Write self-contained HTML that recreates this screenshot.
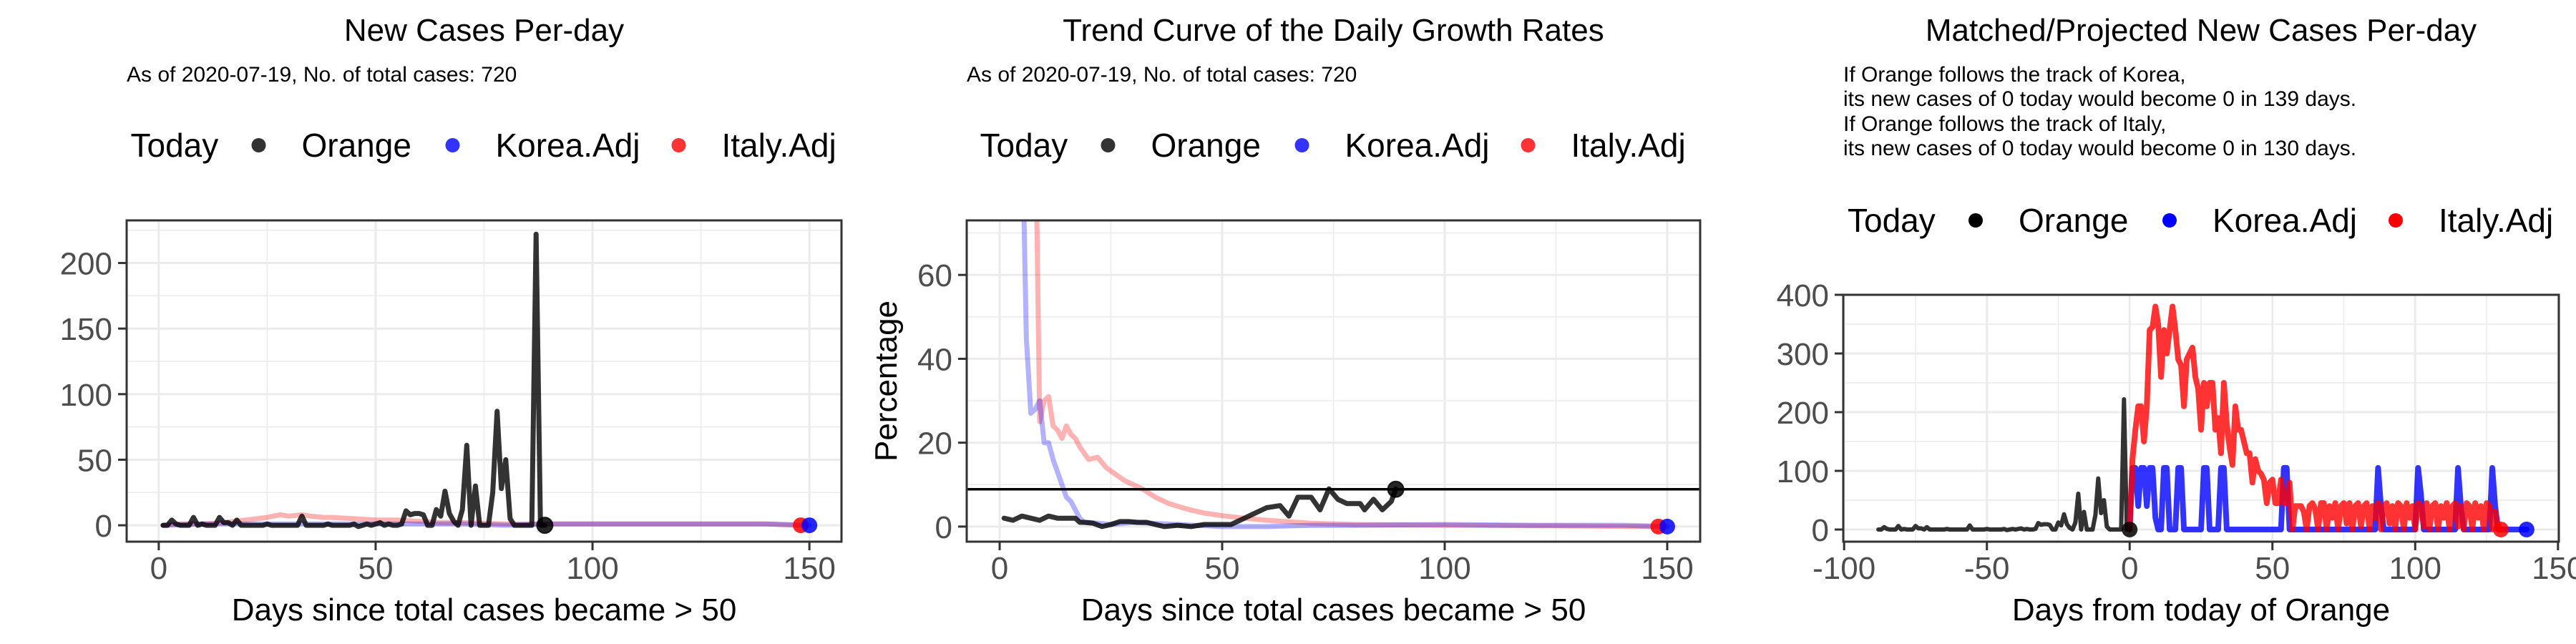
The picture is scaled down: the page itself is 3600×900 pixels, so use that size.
<!DOCTYPE html>
<html><head><meta charset="utf-8">
<style>
html,body{margin:0;padding:0;background:#fff;}
svg{display:block;font-family:"Liberation Sans",Arial,sans-serif;}
</style></head>
<body>
<svg id="chart" width="3600" height="900" viewBox="0 0 3600 900" xmlns="http://www.w3.org/2000/svg"></svg>
<script>
// ---- Panel 1/3 shared: Orange daily new cases (days 1..89)
const orangeDays = [];
for (let d = 1; d <= 89; d++) orangeDays.push(d);
const orangeNew = [0,0,4,1,0,0,0,6,0,1, 0,0,0,6,2,2,0,4,0,0, 0,0,0,0,1,0,0,0,0,0, 0,0,7,0,0,0,0,0,1,0, 0,0,0,0,1,-1,0,1,0,1, 2,0,1,0,0,1,11,8,9,9, 8,0,0,12,7,26,9,3,0,12, 61,0,30,0,0,0,25,87,28,50, 5,0,0,0,0,0,222,0,0];
// Panel 1 comparison series
const p1KoreaDays = [1,10,20,30,40,50,60,70,80,90,100,110,120,130,140,150];
const p1KoreaVals = [0,1,1,1,1,1,1,1,0,1,1,1,1,1,1,0];
const p1ItalyDays = [1,5,10,15,20,25,28,30,33,35,38,40,45,50,55,60,65,70,80,90,100,110,120,130,140,148];
const p1ItalyVals = [0,1,1,2,4,6,8,7,8,7,6,6,5,4,4,3,2,2,1,1,1,1,1,1,1,0];
const p1XTicks = [0,50,100,150];
const p1YTicks = [0,50,100,150,200];

// ---- Panel 2: growth rates
const p2OrangeDays = [1,3,5,7,9,11,13,15,17,18,19,21,23,25,27,29,31,33,35,37,40,43,46,49,52,55,57,60,63,65,67,70,72,74,76,78,81,82,84,86,88,89];
const p2OrangeVals = [2,1.5,2.5,2,1.5,2.5,2,2,2,1,1,0.8,0,0.5,1.2,1.2,1,1,0.5,0,0.3,0,0.5,0.5,0.5,2,3,4.5,5,2.5,7,7,4,9,6.5,5.5,5.5,4,6.5,4,6,9];
const p2KoreaDays = [1,5,6,7,8,9,10,11,12,13,14,15,16,17,18,19,20,25,30,40,50,60,70,80,100,120,140,150];
const p2KoreaVals = [100,100,45,27,28,30,20,20,16,13,10,7,6,4,2,1,1,0.5,1,0.5,0,0,0.3,0.3,0.5,0.3,0.3,0];
const p2ItalyDays = [1,8,9,10,11,12,13,14,15,16,17,18,20,22,24,26,28,30,32,35,38,42,46,50,55,60,70,80,100,120,148];
const p2ItalyVals = [100,100,25,30,31,24,23,21,24,22,21,19,16,16.5,14,12.5,11,10,9,7,5.5,4.2,3.2,2.6,2,1.5,0.8,0.5,0.3,0.2,0];
const p2HLine = 8.9;
const p2XTicks = [0,50,100,150];
const p2YTicks = [0,20,40,60];

// ---- Panel 3: matched/projected
const p3KoreaVals = [0,105,105,40,105,105,40,105,105,20, 0,0,105,105,0,0,0,105,105,0, 0,0,0,0,0,0,105,105,0,0, 0,0,105,105,0,0,0,0,0,0, 0,0,0,0,0,0,0,0,0,0, 0,0,0,0,105,105,0,0,0,0, 0,0,0,0,0,0,0,0,0,0, 0,0,0,0,0,0,0,0,0,0, 0,0,0,0,0,0,0,105,40,0, 0,0,0,0,0,0,0,0,0,0, 0,105,60,0,0,0,0,0,0,0, 0,0,0,0,0,105,40,0,0,0, 0,0,0,0,0,0,0,105,40,0, 0,0,0,0,0,0,0,0,0,0];
const p3ItalyVals = [0,120,170,210,210,150,210,340,345,380, 350,260,340,300,340,380,340,290,280,210, 290,300,310,260,240,170,250,210,250,250, 170,190,130,250,180,140,110,210,170,170, 150,130,130,80,120,100,95,85,45,80, 85,45,45,85,45,45,80,0,40,40, 40,30,0,40,45,35,0,45,45,0, 40,20,45,0,40,45,10,45,0,40, 45,5,40,45,0,40,20,45,0,40, 45,10,40,0,45,40,0,45,20,40, 0,45,40,5,45,0,40,45,0,40, 20,45,0,40,45,5,40,0,45,40, 0,45,20,40,0,45,40,0,30,5, 0];
const p3XTicks = [-100,-50,0,50,100,150];
const p3YTicks = [0,100,200,300,400];
</script>
<script>
const NS = "http://www.w3.org/2000/svg";
const svg = document.getElementById("chart");
function mk(tag, attrs, parent) {
  const e = document.createElementNS(NS, tag);
  for (const k in attrs) e.setAttribute(k, attrs[k]);
  (parent || svg).appendChild(e);
  return e;
}
function txt(s, attrs, parent) { const e = mk("text", attrs, parent); e.textContent = s; return e; }

function makePanel(cfg) {
  const g = mk("g", {});
  
  
  const L = cfg.left, R = cfg.right, T = cfg.top, B = cfg.bottom;
  const sx = v => L + (v - cfg.xmin) / (cfg.xmax - cfg.xmin) * (R - L);
  const sy = v => B - (v - cfg.ymin) / (cfg.ymax - cfg.ymin) * (B - T);
  const cx = (L + R) / 2;
  // title
  const t = txt(cfg.title, {x: cx, y: 57, "text-anchor": "middle", "font-size": 44, fill: "#000"}, g);
  
  
  cfg.subtitle.forEach((s, i) => {
    const st = txt(s, {x: L, y: cfg.subY[i], "font-size": 30, fill: "#000"}, g);
    
    
  });
  // legend
  const lg = mk("g", {}, g);
  
  
  const ly = cfg.legendY;
  const lt = txt("Today", {x: cx - 494, y: ly, "font-size": 46, fill: "#000"}, lg);
  
  
  const items = [["Orange", cfg.cols[0], -315, -255], ["Korea.Adj", cfg.cols[1], -44, 16], ["Italy.Adj", cfg.cols[2], 272, 332]];
  items.forEach(it => {
    const eg = mk("g", {}, lg);
    
    
    mk("circle", {cx: cx + it[2], cy: ly - 16, r: 10, fill: it[1], "fill-opacity": cfg.legendAlpha}, eg);
    txt(it[0], {x: cx + it[3], y: ly, "font-size": 46, fill: "#000"}, eg);
  });
  // grid
  const gg = mk("g", {}, g);
  
  
  cfg.xMinor.forEach(v => mk("line", {x1: sx(v), x2: sx(v), y1: T, y2: B, stroke: "#ebebeb", "stroke-width": 1.5}, gg));
  cfg.yMinor.forEach(v => mk("line", {x1: L, x2: R, y1: sy(v), y2: sy(v), stroke: "#ebebeb", "stroke-width": 1.5}, gg));
  cfg.xTicks.forEach(v => mk("line", {x1: sx(v), x2: sx(v), y1: T, y2: B, stroke: "#ebebeb", "stroke-width": 3}, gg));
  cfg.yTicks.forEach(v => mk("line", {x1: L, x2: R, y1: sy(v), y2: sy(v), stroke: "#ebebeb", "stroke-width": 3}, gg));
  // series
  const clipId = "clip-" + cfg.name;
  const cp = mk("clipPath", {id: clipId}, g);
  mk("rect", {x: L, y: T, width: R - L, height: B - T}, cp);
  const sg = mk("g", {"clip-path": "url(#" + clipId + ")"}, g);
  cfg.series.forEach(s => {
    const d = s.xs.map((x, i) => (i ? "L" : "M") + sx(x).toFixed(1) + "," + sy(s.ys[i]).toFixed(1)).join("");
    const p = mk("path", {d: d, fill: "none", stroke: s.color, "stroke-opacity": s.alpha, "stroke-width": s.w || 7, "stroke-linejoin": "round", "stroke-linecap": "round"}, sg);
    
    
  });
  if (cfg.hline !== undefined) {
    const hl = mk("line", {x1: L, x2: R, y1: sy(cfg.hline), y2: sy(cfg.hline), stroke: "#000", "stroke-width": 3.5}, sg);
    
    
  }
  cfg.points.forEach(pt => {
    const c = mk("circle", {cx: sx(pt[0]), cy: sy(pt[1]), r: 11, fill: pt[2], "fill-opacity": 0.85, stroke: "#000", "stroke-opacity": pt[3] ? 0.8 : 0, "stroke-width": 2}, g);
    
    
  });
  // border
  const bd = mk("rect", {x: L, y: T, width: R - L, height: B - T, fill: "none", stroke: "#333", "stroke-width": 3}, g);
  
  
  // axes
  const xa = mk("g", {}, g);
  
  
  cfg.xTicks.forEach(v => {
    mk("line", {x1: sx(v), x2: sx(v), y1: B, y2: B + 12, stroke: "#333", "stroke-width": 3}, xa);
    txt(String(v), {x: sx(v), y: 809, "text-anchor": "middle", "font-size": 44, fill: "#4d4d4d"}, xa);
  });
  const ya = mk("g", {}, g);
  
  
  cfg.yTicks.forEach(v => {
    mk("line", {x1: L - 12, x2: L, y1: sy(v), y2: sy(v), stroke: "#333", "stroke-width": 3}, ya);
    txt(String(v), {x: L - 20, y: sy(v) + 16, "text-anchor": "end", "font-size": 44, fill: "#4d4d4d"}, ya);
  });
  const xt = txt(cfg.xTitle, {x: cx, y: 867, "text-anchor": "middle", "font-size": 44, fill: "#000"}, g);
  
  
  if (cfg.yTitle) {
    const yt = txt(cfg.yTitle, {x: 0, y: 0, "text-anchor": "middle", "font-size": 44, fill: "#000", transform: "translate(" + (L - 98) + "," + ((T + B) / 2) + ") rotate(-90)"}, g);
    
    
  }
}

const sub1 = ["As of 2020-07-19, No. of total cases: 720"];
makePanel({
  name: "panel-new-cases", left: 177, right: 1176, top: 308, bottom: 757,
  xmin: -7.4, xmax: 157.4, ymin: -12.5, ymax: 232.5,
  title: "New Cases Per-day", subtitle: sub1, subY: [114], legendY: 219,
  cols: ["#000", "#0000ff", "#ff0000"], legendAlpha: 0.8,
  xTicks: p1XTicks, yTicks: p1YTicks, xMinor: [25,75,125], yMinor: [25,75,125,175,225],
  series: [
    {name: "italy-line", xs: p1ItalyDays, ys: p1ItalyVals, color: "#ff0000", alpha: 0.3},
    {name: "korea-line", xs: p1KoreaDays, ys: p1KoreaVals, color: "#0000ff", alpha: 0.3},
    {name: "orange-line", xs: orangeDays, ys: orangeNew, color: "#000", alpha: 0.8}
  ],
  points: [[89, 0, "#000", true], [148, 0, "#ff0000", false], [150, 0, "#0000ff", false]],
  xTitle: "Days since total cases became > 50"
});
makePanel({
  name: "panel-growth-rates", left: 1351, right: 2376, top: 308, bottom: 757,
  xmin: -7.4, xmax: 157.4, ymin: -3.6, ymax: 73,
  title: "Trend Curve of the Daily Growth Rates", subtitle: sub1, subY: [114], legendY: 219,
  cols: ["#000", "#0000ff", "#ff0000"], legendAlpha: 0.8,
  xTicks: p2XTicks, yTicks: p2YTicks, xMinor: [25,75,125], yMinor: [10,30,50,70],
  series: [
    {name: "italy-line", xs: p2ItalyDays, ys: p2ItalyVals, color: "#ff0000", alpha: 0.3},
    {name: "korea-line", xs: p2KoreaDays, ys: p2KoreaVals, color: "#0000ff", alpha: 0.3},
    {name: "orange-line", xs: p2OrangeDays, ys: p2OrangeVals, color: "#000", alpha: 0.8}
  ],
  hline: p2HLine,
  points: [[89, p2HLine, "#000", true], [148, 0, "#ff0000", false], [150, 0, "#0000ff", false]],
  xTitle: "Days since total cases became > 50", yTitle: "Percentage"
});
const p3KoreaX = p3KoreaVals.map((v, i) => i);
const p3ItalyX = p3ItalyVals.map((v, i) => i);
const p3OrangeX = orangeDays.map(d => d - 89);
makePanel({
  name: "panel-projected", left: 2576, right: 3576, top: 412, bottom: 757,
  xmin: -100.3, xmax: 150.3, ymin: -20.7, ymax: 400,
  title: "Matched/Projected New Cases Per-day",
  subtitle: ["If Orange follows the track of Korea,", "its new cases of 0 today would become 0 in 139 days.", "If Orange follows the track of Italy,", "its new cases of 0 today would become 0 in 130 days."],
  subY: [114, 148, 183, 217], legendY: 324,
  cols: ["#000", "#0000ff", "#ff0000"], legendAlpha: 1,
  xTicks: p3XTicks, yTicks: p3YTicks, xMinor: [-75,-25,25,75,125], yMinor: [50,150,250,350],
  series: [
    {name: "orange-line", xs: p3OrangeX, ys: orangeNew, color: "#000", alpha: 0.8, w: 6},
    {name: "korea-line", xs: p3KoreaX, ys: p3KoreaVals, color: "#0000ff", alpha: 0.8, w: 8},
    {name: "italy-line", xs: p3ItalyX, ys: p3ItalyVals, color: "#ff0000", alpha: 0.8, w: 8}
  ],
  points: [[0, 0, "#000", false], [130, 0, "#ff0000", false], [139, 0, "#0000ff", false]],
  xTitle: "Days from today of Orange"
});
</script>
</body></html>
